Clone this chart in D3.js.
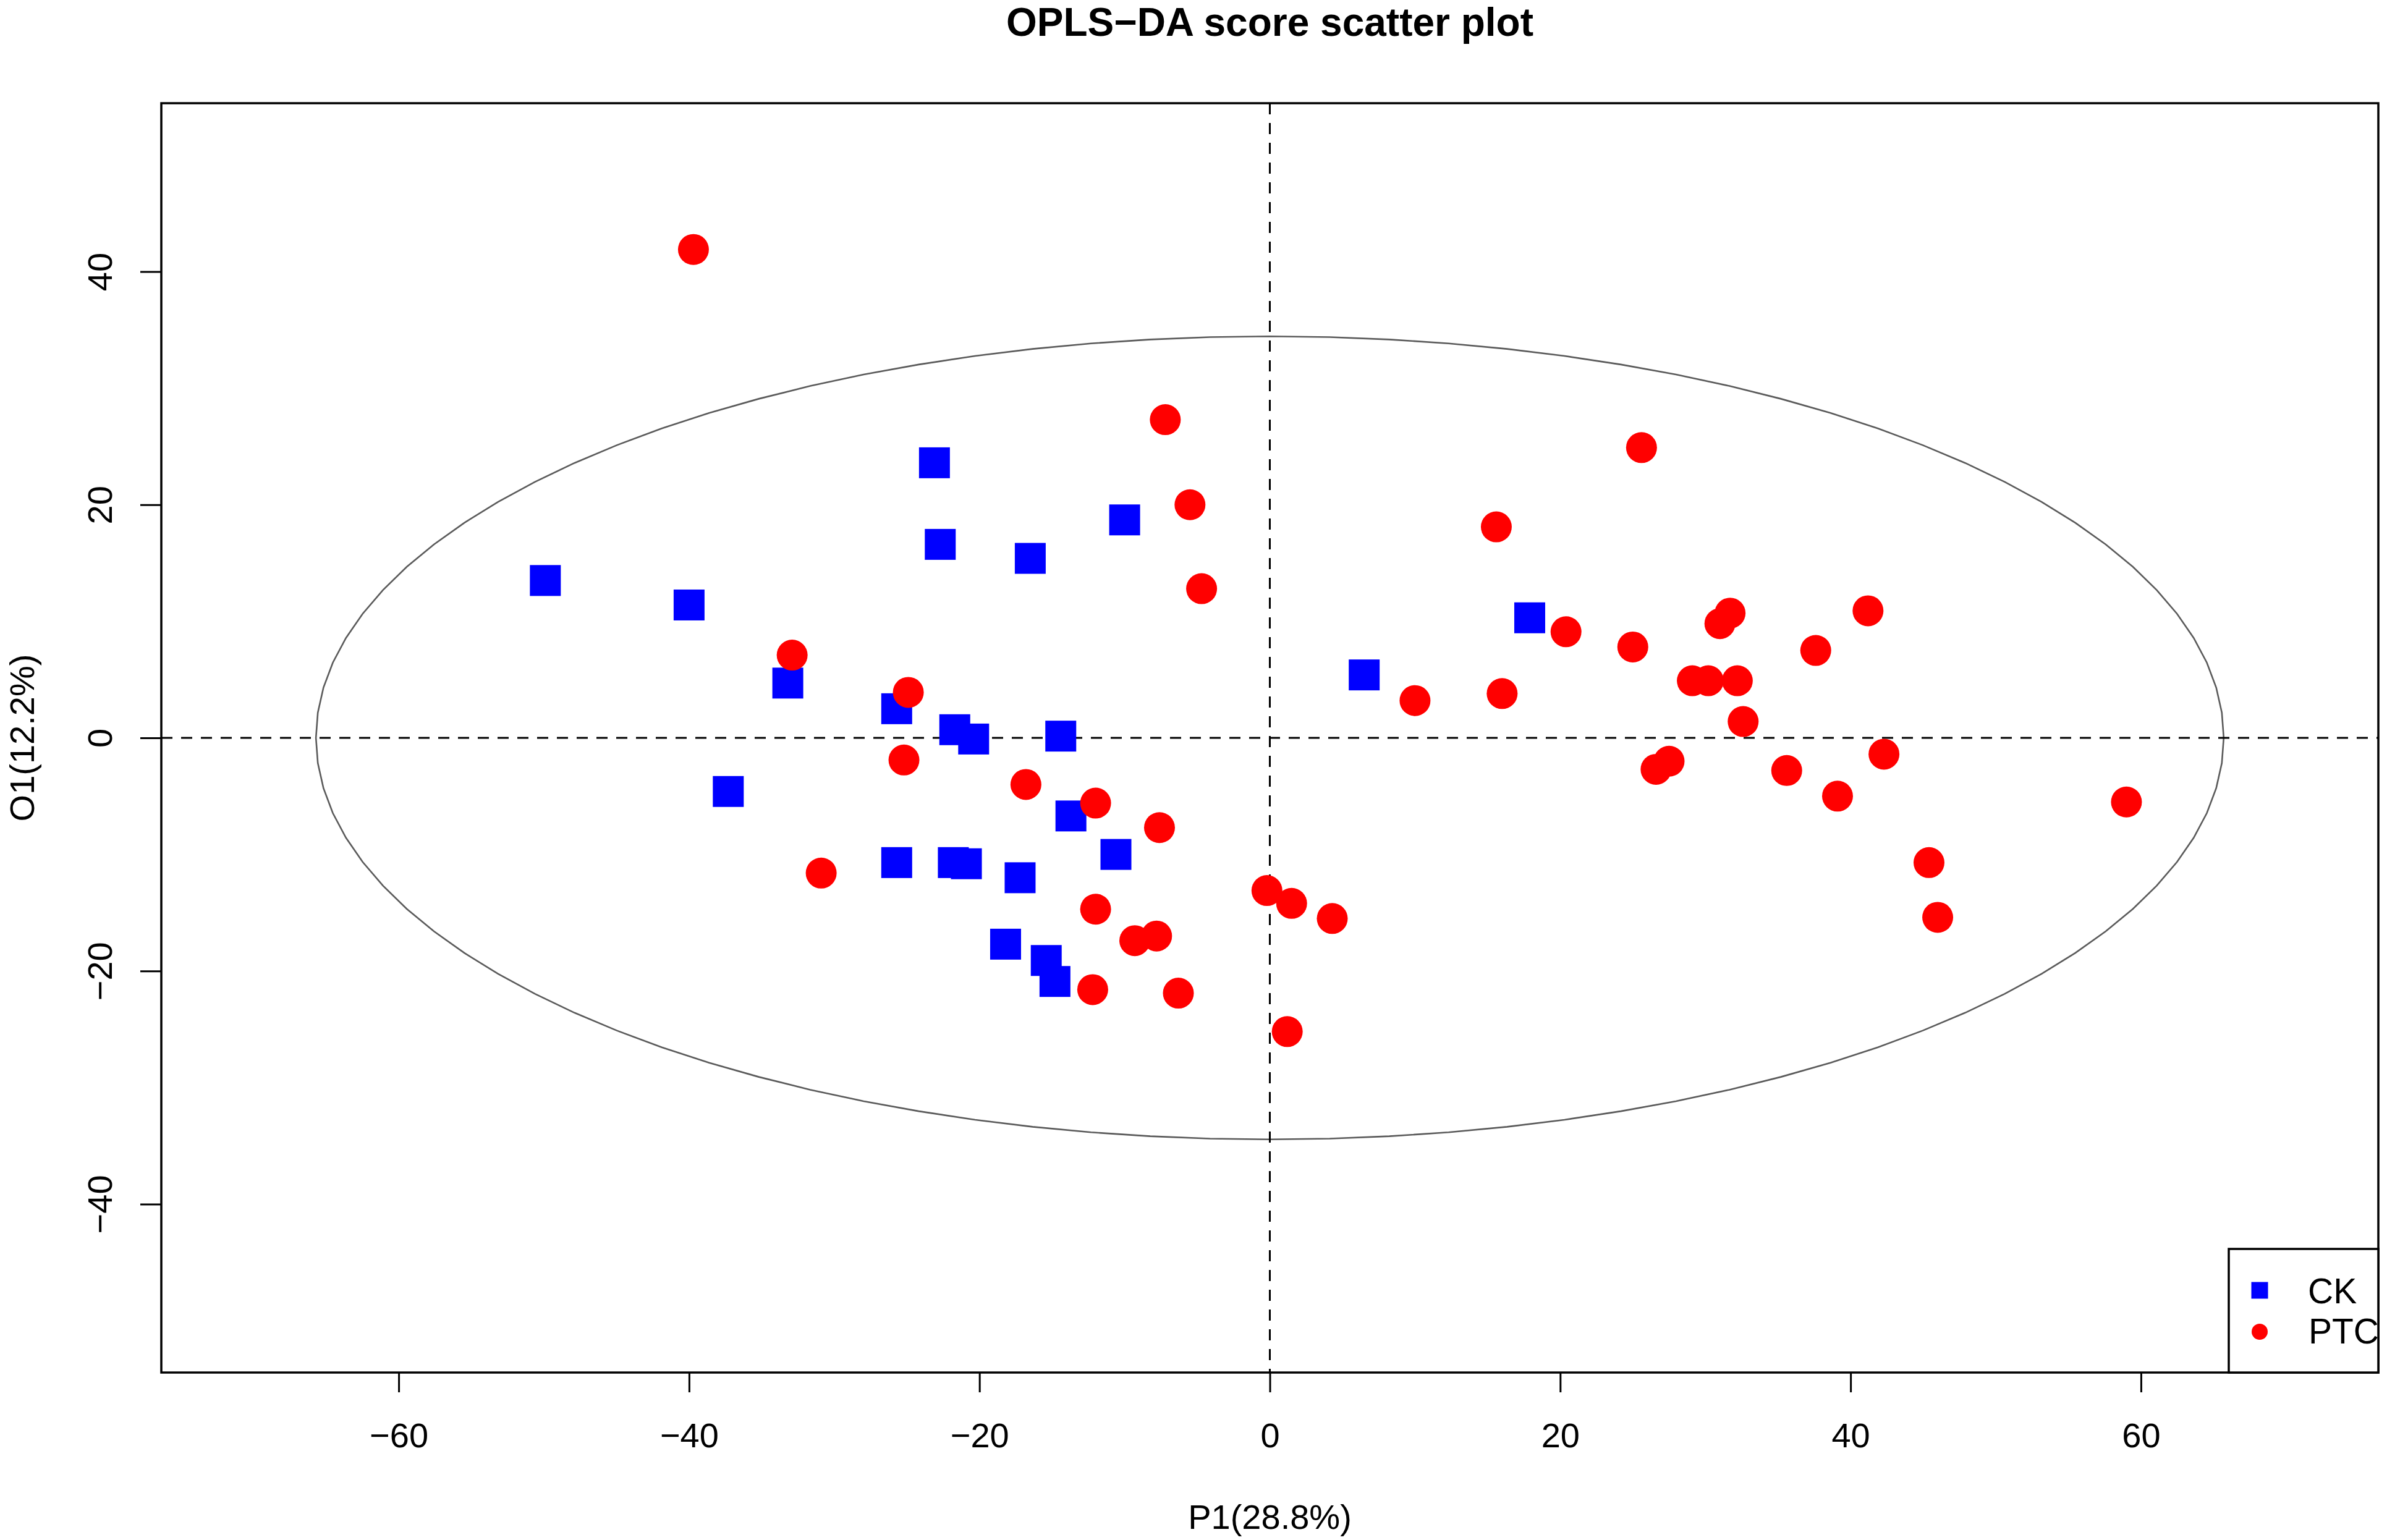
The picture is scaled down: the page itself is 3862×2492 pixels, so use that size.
<!DOCTYPE html>
<html>
<head>
<meta charset="utf-8">
<script src="https://cdn.jsdelivr.net/npm/d3@7/dist/d3.min.js"></script>
<style>
  html, body { margin: 0; padding: 0; background: #fff; }
  svg { display: block; }
  text { font-family: "Liberation Sans", Arial, Helvetica, sans-serif; }
</style>
</head>
<body>
<svg id="chart" width="3862" height="2492"></svg>
<script>
// ---------- data ----------
const groups = ["CK", "PTC"];
const groupColors = ["#0000ff", "#ff0000"];

const ckX = [-49.9, -40.0, -23.1, -22.7, -16.5, -10.0, -33.2, -25.7, -21.7, -20.4, -14.4, -37.3,
             -13.7, -25.7, -21.8, -20.9, -10.6, -17.2, -18.2, -15.4, -14.8, 6.5, 17.9];
const ckY = [13.5, 11.4, 23.6, 16.6, 15.4, 18.7, 4.7, 2.5, 0.7, -0.1, 0.15, -4.6,
             -6.7, -10.7, -10.7, -10.8, -10.0, -12.0, -17.7, -19.1, -20.9, 5.4, 10.3];

const ptcX = [-39.7, -7.2, -5.5, -4.7, -32.9, -24.9, -25.2, -16.8, -12.0, -7.6, -30.9, -12.0,
              -9.3, -7.8, -12.2, -6.3, 25.6, 15.6, 20.4, 25.0, 31.0, 31.7, 37.6, 41.2,
              10.0, 16.0, 29.1, 30.2, 32.2, 32.6, 26.6, 27.5, 35.6, 39.1, 42.3, -0.2,
              1.5, 4.3, 1.2, 59.0, 45.4, 46.0];
const ptcY = [41.9, 27.3, 20.0, 12.8, 7.1, 3.9, -1.9, -4.0, -5.6, -7.7, -11.6, -14.7,
              -17.4, -17.0, -21.6, -21.9, 24.9, 18.1, 9.1, 7.8, 9.8, 10.7, 7.5, 10.9,
              3.2, 3.8, 4.9, 4.9, 4.9, 1.4, -2.7, -2.0, -2.8, -5.0, -1.4, -13.1,
              -14.2, -15.5, -25.2, -5.5, -10.7, -15.4];

const xTicks = [-60, -40, -20, 0, 20, 40, 60];
const yTicks = [-40, -20, 0, 20, 40];
const xDomain = [-76.35, 76.35];
const yDomain = [-54.45, 54.45];
const ellipseA = 65.7;   // semi-axis along P1
const ellipseB = 34.45;  // semi-axis along O1

const titleText = "OPLS\u2212DA score scatter plot";
const xLabel = "P1(28.8%)";
const yLabel = "O1(12.2%)";

// ---------- layout ----------
const L = 261, R = 3848, T = 167, B = 2221;
const svg = d3.select("#chart");
svg.append("rect").attr("width", 3862).attr("height", 2492).attr("fill", "#fff");

const x = d3.scaleLinear().domain(xDomain).range([L, R]);
const y = d3.scaleLinear().domain(yDomain).range([B, T]);

const fmt = d => d < 0 ? "\u2212" + Math.abs(d) : String(d);

// ellipse
const ell = d3.range(0, 101).map(i => {
  const t = i / 100 * 2 * Math.PI;
  return [ellipseA * Math.cos(t), ellipseB * Math.sin(t)];
});
svg.append("path")
  .attr("d", d3.line().x(d => x(d[0])).y(d => y(d[1]))(ell))
  .attr("fill", "none").attr("stroke", "#5a5a5a").attr("stroke-width", 2.6);

// dashed zero lines
svg.append("line").attr("x1", L).attr("x2", R).attr("y1", y(0)).attr("y2", y(0))
  .attr("stroke", "#000").attr("stroke-width", 3).attr("stroke-dasharray", "18,14");
svg.append("line").attr("x1", x(0)).attr("x2", x(0)).attr("y1", T).attr("y2", B)
  .attr("stroke", "#000").attr("stroke-width", 3).attr("stroke-dasharray", "18,14");

// points
const ck = ckX.map((v, i) => ({x: v, y: ckY[i]}));
const ptc = ptcX.map((v, i) => ({x: v, y: ptcY[i]}));
const sq = 50;
svg.append("g").selectAll("rect").data(ck).join("rect")
  .attr("x", d => x(d.x) - sq / 2).attr("y", d => y(d.y) - sq / 2)
  .attr("width", sq).attr("height", sq).attr("fill", groupColors[0]);
svg.append("g").selectAll("circle").data(ptc).join("circle")
  .attr("cx", d => x(d.x)).attr("cy", d => y(d.y)).attr("r", 25)
  .attr("fill", groupColors[1]);

// axes
const xAxis = svg.append("g").attr("transform", `translate(0,${B})`)
  .call(d3.axisBottom(x).tickValues(xTicks).tickFormat(fmt).tickSize(32).tickPadding(49));
const yAxis = svg.append("g").attr("transform", `translate(${L},0)`)
  .call(d3.axisLeft(y).tickValues(yTicks).tickFormat(fmt).tickSize(34));
[xAxis, yAxis].forEach(a => {
  a.select(".domain").remove();
  a.selectAll(".tick line").attr("stroke", "#000").attr("stroke-width", 3);
  a.selectAll(".tick text").attr("font-size", 56).attr("fill", "#000")
    .attr("font-family", "'Liberation Sans', Arial, sans-serif");
});
yAxis.selectAll(".tick text")
  .attr("x", null).attr("dy", null)
  .attr("text-anchor", "middle")
  .attr("transform", "translate(-80,0) rotate(-90)");

// plot box
svg.append("rect").attr("x", L).attr("y", T).attr("width", R - L).attr("height", B - T)
  .attr("fill", "none").attr("stroke", "#000").attr("stroke-width", 3.5);

// title & labels
svg.append("text").attr("x", (L + R) / 2).attr("y", 58).attr("text-anchor", "middle")
  .attr("font-size", 64).attr("font-weight", "bold").text(titleText);
svg.append("text").attr("x", (L + R) / 2).attr("y", 2474).attr("text-anchor", "middle")
  .attr("font-size", 56).text(xLabel);
svg.append("text").attr("transform", `translate(55,${(T + B) / 2}) rotate(-90)`)
  .attr("text-anchor", "middle").attr("font-size", 56).text(yLabel);

// legend
const lgX = 3606, lgY = 2021;
svg.append("rect").attr("x", lgX).attr("y", lgY).attr("width", R - lgX).attr("height", B - lgY)
  .attr("fill", "#fff").attr("stroke", "#000").attr("stroke-width", 3.5);
const lg = svg.append("g");
lg.append("rect").attr("x", 3656 - 13.5).attr("y", 2088 - 13.5).attr("width", 27).attr("height", 27)
  .attr("fill", groupColors[0]);
lg.append("circle").attr("cx", 3656).attr("cy", 2155).attr("r", 13).attr("fill", groupColors[1]);
lg.append("text").attr("x", 3734).attr("y", 2109).attr("font-size", 57).text(groups[0]);
lg.append("text").attr("x", 3735).attr("y", 2174).attr("font-size", 57).text(groups[1]);
</script>
</body>
</html>
